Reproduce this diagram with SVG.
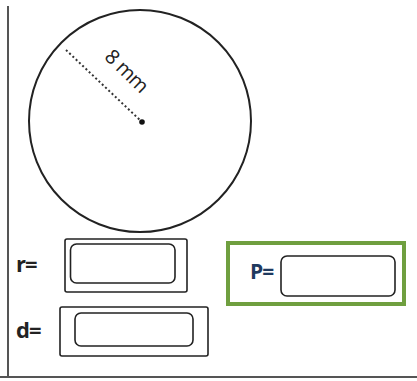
<svg xmlns="http://www.w3.org/2000/svg" width="417" height="381" viewBox="0 0 417 381">
<style>
.frame{stroke:#555;stroke-width:2;fill:none}
.box{fill:#fff;stroke:#222;stroke-width:1.6}
.lbl{font-family:"Open Sans","Liberation Sans",sans-serif;font-weight:bold;font-size:22px;fill:#222}
</style>
<rect width="417" height="381" fill="#fff"/>
<g id="frame">
<line class="frame" x1="8" y1="6" x2="8" y2="378"/>
<line class="frame" x1="0" y1="377" x2="417" y2="377"/>
</g>
<g id="circle">
<circle cx="140" cy="121" r="111" fill="none" stroke="#222" stroke-width="2"/>
<line x1="66" y1="50" x2="142" y2="122" stroke="#333" stroke-width="2" stroke-dasharray="2,2.5"/>
<circle cx="142" cy="122" r="2.8" fill="#111"/>
<text transform="translate(122,76) rotate(44)" text-anchor="middle" font-family="Open Sans, Liberation Sans, sans-serif" font-size="20" fill="#222" letter-spacing="-0.5">8 mm</text>
</g>
<g id="r">
<text class="lbl" x="16" y="272" letter-spacing="-1">r=</text>
<rect class="box" x="65" y="239" width="122" height="53" rx="2"/>
<rect class="box" x="70.5" y="244" width="104.5" height="39" rx="6"/>
</g>
<g id="d">
<text class="lbl" x="16" y="338" letter-spacing="-1">d=</text>
<rect class="box" x="60" y="307" width="148" height="49" rx="2"/>
<rect class="box" x="75" y="313" width="118" height="33" rx="6"/>
</g>
<g id="p">
<rect x="228" y="243" width="176" height="61" fill="#fff" stroke="#6f9f3f" stroke-width="4"/>
<text x="250" y="279" font-family="Open Sans, Liberation Sans, sans-serif" font-weight="bold" font-size="21" fill="#1f3a5f" letter-spacing="-1">P=</text>
<rect class="box" x="281" y="256" width="114" height="40" rx="6"/>
</g>
</svg>
